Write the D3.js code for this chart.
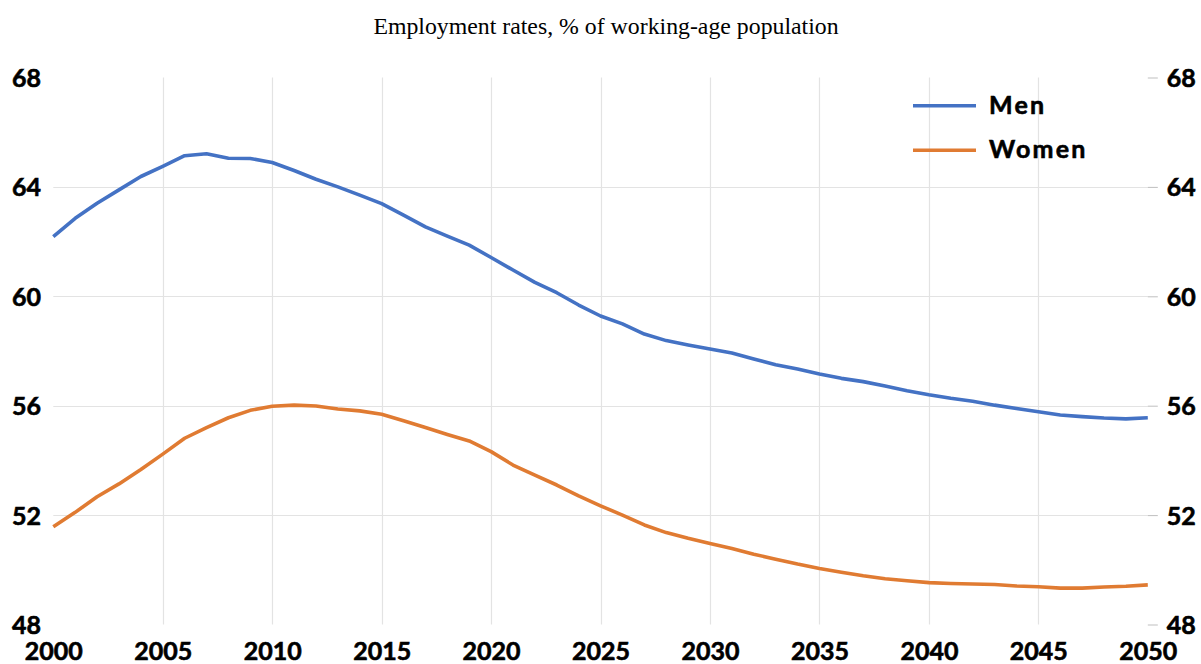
<!DOCTYPE html>
<html>
<head>
<meta charset="utf-8">
<script src="https://cdn.jsdelivr.net/npm/d3@7"></script>
<style>
  html, body { margin: 0; padding: 0; background: #ffffff; }
  svg { display: block; }
</style>
</head>
<body>
<svg id="chart" width="1201" height="664"></svg>
<script>
// Employment rates by sex, 2000–2050
const years = d3.range(2000, 2051);

const men = [
  62.18, 62.85, 63.40, 63.89, 64.38, 64.75, 65.14, 65.21, 65.05, 65.04,
  64.89, 64.60, 64.28, 64.00, 63.70, 63.39, 62.97, 62.54, 62.20, 61.87,
  61.42, 60.96, 60.51, 60.13, 59.68, 59.28, 58.99, 58.62, 58.38, 58.22,
  58.07, 57.93, 57.71, 57.50, 57.34, 57.16, 57.00, 56.88, 56.72, 56.55,
  56.40, 56.27, 56.16, 56.02, 55.90, 55.78, 55.66, 55.60, 55.55, 55.52,
  55.56
];

const women = [
  51.57, 52.10, 52.67, 53.14, 53.67, 54.23, 54.81, 55.20, 55.56, 55.83,
  55.98, 56.02, 55.99, 55.88, 55.81, 55.69, 55.45, 55.20, 54.95, 54.71,
  54.32, 53.83, 53.46, 53.10, 52.70, 52.34, 52.00, 51.64, 51.36, 51.15,
  50.96, 50.78, 50.57, 50.39, 50.21, 50.05, 49.91, 49.78, 49.67, 49.60,
  49.53, 49.50, 49.48, 49.46, 49.41, 49.38, 49.33, 49.33, 49.37, 49.40,
  49.45
];

const seriesNames = ["Men", "Women"];
const seriesColors = ["#4472C4", "#E07B32"];
const yTicks = [48, 52, 56, 60, 64, 68];
const xTicks = d3.range(2000, 2051, 5);
const title = "Employment rates, % of working-age population";

const svg = d3.select("#chart");
const labelFont = "Lato, 'Open Sans', sans-serif";

const x = d3.scaleLinear().domain([2000, 2050]).range([53.3, 1147.8]);
const y = d3.scaleLinear().domain([48, 68]).range([624.5, 77.5]);

// Bold label styling shared by axes and legend
function boldLabel(sel) {
  sel.attr("font-family", labelFont).attr("font-weight", 700)
    .attr("font-size", 25).attr("fill", "#000")
    .attr("stroke", "#000").attr("stroke-width", 0.6);
}

// Title
svg.append("text")
  .attr("x", 606).attr("y", 34)
  .attr("text-anchor", "middle")
  .attr("font-family", "'Liberation Serif', 'Times New Roman', serif")
  .attr("font-size", 23.8)
  .attr("fill", "#000")
  .text(title);

// Horizontal gridlines (inner values only)
svg.append("g")
  .selectAll("line")
  .data(yTicks.filter(v => v > 48 && v < 68))
  .join("line")
  .attr("x1", x(2000)).attr("x2", x(2050))
  .attr("y1", d => Math.round(y(d)) + 0.5).attr("y2", d => Math.round(y(d)) + 0.5)
  .attr("stroke", "#e3e3e3").attr("stroke-width", 1.2);

// Vertical gridlines (inner years only)
svg.append("g")
  .selectAll("line")
  .data(xTicks.filter(v => v > 2000 && v < 2050))
  .join("line")
  .attr("x1", d => Math.round(x(d)) + 0.5).attr("x2", d => Math.round(x(d)) + 0.5)
  .attr("y1", y(68)).attr("y2", y(48))
  .attr("stroke", "#e3e3e3").attr("stroke-width", 1.2);

// Left axis: labels only
const leftAxis = svg.append("g")
  .attr("transform", "translate(41,0)")
  .call(d3.axisLeft(y).tickValues(yTicks).tickSize(0).tickPadding(0).tickFormat(d3.format("d")));
leftAxis.select(".domain").remove();
leftAxis.selectAll("text").call(boldLabel).attr("dy", "0.36em");

// Right axis: small grey ticks and labels
const rightAxis = svg.append("g")
  .attr("transform", `translate(${x(2050)},0)`)
  .call(d3.axisRight(y).tickValues(yTicks).tickSize(10).tickPadding(9).tickFormat(d3.format("d")));
rightAxis.select(".domain").remove();
rightAxis.selectAll("line").attr("stroke", "#bfbfbf").attr("stroke-width", 1);
rightAxis.selectAll("text").call(boldLabel).attr("dy", "0.36em");

// Bottom axis: year labels
const bottomAxis = svg.append("g")
  .attr("transform", "translate(0,642)")
  .call(d3.axisBottom(x).tickValues(xTicks).tickSize(0).tickPadding(0).tickFormat(d3.format("d")));
bottomAxis.select(".domain").remove();
bottomAxis.selectAll("text").call(boldLabel).attr("dy", "0.72em");

// Lines
const line = d3.line()
  .x((d, i) => x(years[i]))
  .y(d => y(d));

[men, women].forEach((vals, i) => {
  svg.append("path")
    .datum(vals)
    .attr("fill", "none")
    .attr("stroke", seriesColors[i])
    .attr("stroke-width", 3.6)
    .attr("stroke-linejoin", "round")
    .attr("d", line);
});

// Legend
const legend = svg.append("g");
seriesNames.forEach((name, i) => {
  const ly = 105.7 + i * 44.5;
  legend.append("line")
    .attr("x1", 913).attr("x2", 976)
    .attr("y1", ly).attr("y2", ly)
    .attr("stroke", seriesColors[i]).attr("stroke-width", 3.6);
  legend.append("text")
    .attr("x", 989).attr("y", ly + 8)
    .call(boldLabel)
    .attr("letter-spacing", 2.2)
    .text(name);
});
</script>
</body>
</html>
